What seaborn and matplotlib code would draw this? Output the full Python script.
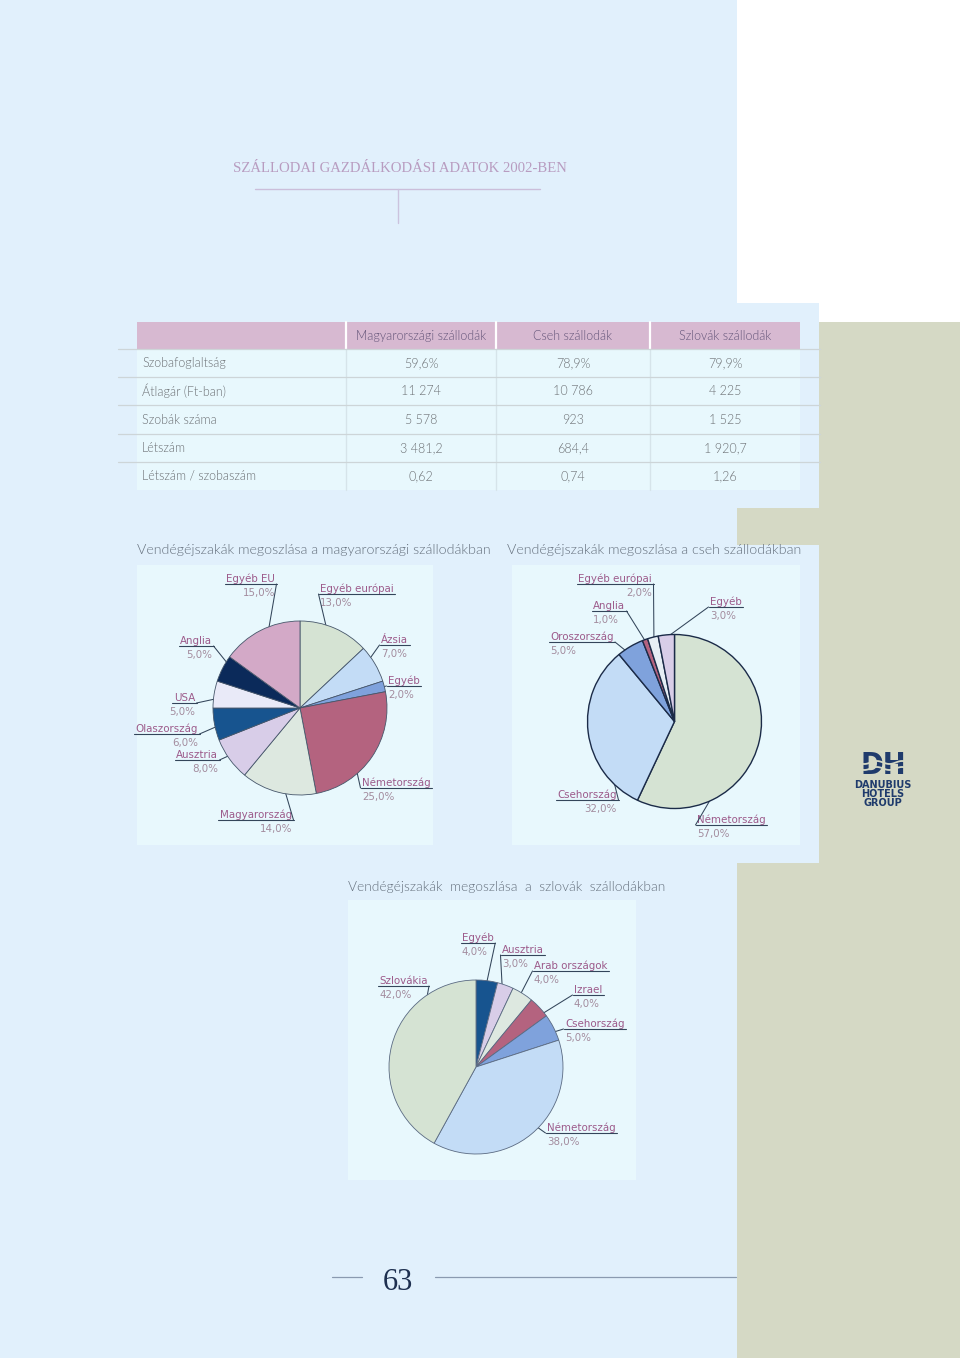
import matplotlib
matplotlib.use("Agg")
import matplotlib.pyplot as plt
import seaborn as sns
import numpy as np
from matplotlib.patches import Rectangle

sns.set_theme(style="white")
plt.rcParams['font.family'] = ['DejaVu Sans']

# ---------------- data ----------------
page_title = "SZÁLLODAI GAZDÁLKODÁSI ADATOK 2002-BEN"
page_number = "63"

table_columns = ["Magyarországi szállodák", "Cseh szállodák", "Szlovák szállodák"]
table_rows = ["Szobafoglaltság", "Átlagár (Ft-ban)", "Szobák száma", "Létszám", "Létszám / szobaszám"]
hu_values = ["59,6%", "11 274", "5 578", "3 481,2", "0,62"]
cz_values = ["78,9%", "10 786", "923", "684,4", "0,74"]
sk_values = ["79,9%", "4 225", "1 525", "1 920,7", "1,26"]

hu_title = "Vendégéjszakák megoszlása a magyarországi szállodákban"
hu_labels = ["Egyéb európai", "Ázsia", "Egyéb", "Németország", "Magyarország",
             "Ausztria", "Olaszország", "USA", "Anglia", "Egyéb EU"]
hu_shares = [13, 7, 2, 25, 14, 8, 6, 5, 5, 15]

cz_title = "Vendégéjszakák megoszlása a cseh szállodákban"
cz_labels = ["Németország", "Csehország", "Oroszország", "Anglia", "Egyéb európai", "Egyéb"]
cz_shares = [57, 32, 5, 1, 2, 3]

sk_title = "Vendégéjszakák  megoszlása  a  szlovák  szállodákban"
sk_labels = ["Egyéb", "Ausztria", "Arab országok", "Izrael", "Csehország", "Németország", "Szlovákia"]
sk_shares = [4, 3, 4, 4, 5, 38, 42]

# ---------------- style ----------------
W, H = 960, 1358
PAGE = '#E1F0FC'
PANEL = '#E8F8FD'
OLIVE = '#D5D9C5'
HEADER = '#D7B9D1'
NAME_C = '#9C5A8A'
PCT_C = '#A38C9E'
LINE_C = '#33455A'
TITLE_C = '#66717E'
TABLE_C = '#6C7074'

C_LGREEN = '#D5E3D3'
C_LBLUE = '#C3DCF6'
C_MBLUE = '#7FA2DC'
C_MAUVE = '#B4637F'
C_GREY = '#DDE8E0'
C_LAV = '#D8CDE8'
C_DBLUE = '#17548F'
C_PALE = '#E9EAF8'
C_NAVY = '#0B2A5A'
C_PINK = '#D3A9C7'
C_WHITE = '#E6EEF4'

hu_colors = sns.color_palette([C_LGREEN, C_LBLUE, C_MBLUE, C_MAUVE, C_GREY,
                               C_LAV, C_DBLUE, C_PALE, C_NAVY, C_PINK])
cz_colors = sns.color_palette([C_LGREEN, C_LBLUE, C_MBLUE, C_MAUVE, C_WHITE, C_LAV])
sk_colors = sns.color_palette([C_DBLUE, C_LAV, C_GREY, C_MAUVE, C_MBLUE, C_LBLUE, C_LGREEN])

fig = plt.figure(figsize=(W / 100, H / 100), dpi=100)
bg = fig.add_axes([0, 0, 1, 1])
bg.set_xlim(0, W)
bg.set_ylim(H, 0)
bg.axis('off')


def rect(x0, y0, x1, y1, color, z=0):
    bg.add_patch(Rectangle((x0, y0), x1 - x0, y1 - y0, facecolor=color,
                           edgecolor='none', zorder=z))


# page backgrounds
rect(0, 0, W, H, 'white')
rect(0, 0, 737, H, PAGE)
rect(737, 303, 819, 508, PAGE)
rect(819, 322, W, H, OLIVE)
rect(737, 508, 819, 545, OLIVE)
rect(737, 545, 819, 863, PAGE)
rect(737, 863, 819, H, OLIVE)

# title
bg.text(400, 168, page_title, ha='center', va='center', fontsize=10.6,
        family='Liberation Serif', color='#B89CC0')
bg.plot([255, 540], [189, 189], color='#CBBEDA', lw=1.0)
bg.plot([398, 398], [189, 223], color='#CBC3DE', lw=1.0)

# ---------------- table ----------------
col_edges = [137, 346, 496, 650, 800]
row_edges = [349, 377, 405, 434, 462, 490]
rect(137, 322, 800, 349, HEADER, z=1)
rect(137, 349, 800, 490, PANEL, z=1)
for x in col_edges[1:-1]:
    bg.plot([x, x], [322, 349], color='white', lw=1.6, zorder=2)
    bg.plot([x, x], [349, 490], color='#D6E4EA', lw=1.0, zorder=2)
for y in row_edges[:-1]:
    bg.plot([118, 820], [y, y], color='#CDD5D8', lw=0.9, zorder=2)

tfont = dict(family='Lato', fontweight=300, fontsize=9.0)
for j, col in enumerate(table_columns):
    bg.text((col_edges[j + 1] + col_edges[j + 2]) / 2, 335.5, col, ha='center', va='center',
            color='#65567A', zorder=3, **tfont)
for i, rname in enumerate(table_rows):
    yc = (row_edges[i] + row_edges[i + 1]) / 2
    bg.text(142, yc, rname, ha='left', va='center', color=TABLE_C, zorder=3, **tfont)
    for j, vals in enumerate([hu_values, cz_values, sk_values]):
        bg.text((col_edges[j + 1] + col_edges[j + 2]) / 2, yc, vals[i], ha='center',
                va='center', color=TABLE_C, zorder=3, **tfont)

# ---------------- pie panels ----------------
rect(137, 565, 433, 845, PANEL, z=1)
rect(512, 565, 800, 845, PANEL, z=1)
rect(348, 900, 636, 1180, PANEL, z=1)

sfont = dict(family='Lato', fontweight=300, fontsize=10.3, color=TITLE_C)
bg.text(137, 550, hu_title, ha='left', va='center', **sfont)
bg.text(507, 550, cz_title, ha='left', va='center', **sfont)
bg.text(348, 887, sk_title, ha='left', va='center', family='Lato', fontweight=300,
        fontsize=9.9, color=TITLE_C)


def pie_axes(cx, cy, r):
    ax = fig.add_axes([(cx - r) / W, 1 - (cy + r) / H, 2 * r / W, 2 * r / H])
    return ax


def draw_pie(ax, shares, colors, ec, lw):
    ax.pie(shares, colors=colors, startangle=90, counterclock=False,
           wedgeprops=dict(edgecolor=ec, linewidth=lw))
    ax.set_xlim(-1, 1)
    ax.set_ylim(-1, 1)
    ax.set_aspect('auto')
    ax.axis('off')
    total = float(sum(shares))
    cum = np.cumsum([0] + list(shares))[:-1]
    mids = [np.deg2rad(90 - 360 * (c + s / 2) / total) for c, s in zip(cum, shares)]
    return mids


renderer = fig.canvas.get_renderer()
inv = bg.transData.inverted()


def pct_text(v):
    return f"{v:.1f}".replace('.', ',') + '%'


def pie_labels(ax, labels, shares, mids, layout):
    for name, v, th, (tx, ty, ha, side, f) in zip(labels, shares, mids, layout):
        t = bg.text(tx, ty, name, ha=ha, va='center', fontsize=7.4, color=NAME_C, zorder=5)
        bg.text(tx, ty + 14, pct_text(v), ha=ha, va='center', fontsize=7.4, color=PCT_C, zorder=5)
        bb = t.get_window_extent(renderer=renderer)
        (xa, _), (xb, _) = inv.transform([[bb.x0, bb.y0], [bb.x1, bb.y1]])
        xl, xr = min(xa, xb) - 1.5, max(xa, xb) + 1.5
        uy = ty + 5.0
        bg.plot([xl, xr], [uy, uy], color=LINE_C, lw=0.8, zorder=6)
        px, py = inv.transform(ax.transData.transform((f * np.cos(th), f * np.sin(th))))
        sx = xl if side == 'L' else xr
        bg.plot([sx, px], [uy, py], color=LINE_C, lw=0.75, zorder=6)


# Hungarian hotels
ax1 = pie_axes(300, 708, 87)
m1 = draw_pie(ax1, hu_shares, hu_colors, '#46566A', 0.6)
hu_layout = [
    (320, 589, 'left', 'L', 0.85),
    (381, 640, 'left', 'L', 0.8),
    (388, 681, 'left', 'L', 0.75),
    (362, 783, 'left', 'L', 0.7),
    (292, 815, 'right', 'R', 0.85),
    (218, 755, 'right', 'R', 0.8),
    (198, 729, 'right', 'R', 0.85),
    (195, 698, 'right', 'R', 0.85),
    (212, 641, 'right', 'R', 0.8),
    (275, 579, 'right', 'R', 0.85),
]
pie_labels(ax1, hu_labels, hu_shares, m1, hu_layout)

# Czech hotels
ax2 = pie_axes(674.5, 721.5, 87)
m2 = draw_pie(ax2, cz_shares, cz_colors, '#1B2B48', 1.0)
cz_layout = [
    (697, 820, 'left', 'L', 0.85),
    (617, 795, 'right', 'R', 0.85),
    (550, 637, 'left', 'R', 0.8),
    (593, 606, 'left', 'R', 0.97),
    (652, 579, 'right', 'R', 0.95),
    (710, 602, 'left', 'L', 0.97),
]
pie_labels(ax2, cz_labels, cz_shares, m2, cz_layout)

# Slovak hotels
ax3 = pie_axes(476, 1067, 87)
m3 = draw_pie(ax3, sk_shares, sk_colors, '#5A6A82', 0.6)
sk_layout = [
    (462, 938, 'left', 'R', 0.97),
    (502, 950, 'left', 'L', 0.9),
    (534, 966, 'left', 'L', 0.8),
    (574, 990, 'left', 'L', 0.6),
    (565, 1024, 'left', 'L', 0.7),
    (547, 1128, 'left', 'L', 0.6),
    (379, 981, 'left', 'R', 0.7),
]
pie_labels(ax3, sk_labels, sk_shares, m3, sk_layout)

# ---------------- logo ----------------
NAVY_LOGO = '#1F3B6C'
bg.text(883, 766, "DH", ha='center', va='center', fontsize=22, fontweight='bold',
        fontstretch='condensed', color=NAVY_LOGO, zorder=5)
xs = np.linspace(858, 908, 70)
for yy in (762.5, 768.5):
    bg.plot(xs, yy + 1.5 * np.sin((xs - 858) / 4.0), color=OLIVE, lw=1.3, zorder=6)
for yy, word in zip([785, 794, 803], ["DANUBIUS", "HOTELS", "GROUP"]):
    bg.text(883, yy, word, ha='center', va='center', fontsize=7.0, fontweight='bold',
            color=NAVY_LOGO, zorder=5)

# ---------------- page number ----------------
bg.plot([332, 362], [1277, 1277], color='#8A9AB0', lw=0.9)
bg.plot([435, 736], [1277, 1277], color='#8A9AB0', lw=0.9)
bg.text(398, 1283, page_number, ha='center', va='center', fontsize=22,
        family='Liberation Serif', color='#1E3050')

fig.savefig("out.png", dpi=100)
